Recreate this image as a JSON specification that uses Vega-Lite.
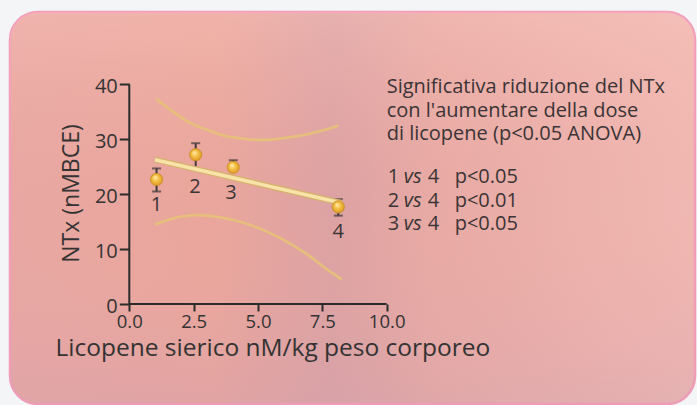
{
  "$schema": "https://vega.github.io/schema/vega-lite/v6.json",
  "width": 685,
  "height": 392,
  "autosize": {"type": "none"},
  "padding": {"left": 10, "top": 12, "right": 2, "bottom": 1},
  "background": "#f3f5f7",
  "config": {"view": {"stroke": null}, "font": "Open Sans", "axis": {"grid": false}},
  "datasets": {
    "points": [
      {"id": "1", "x": 1.06, "y": 22.7, "hi": 24.7, "lo": 20.5, "lx": 1.06, "ly": 18.0},
      {"id": "2", "x": 2.58, "y": 27.2, "hi": 29.3, "lo": 25.0, "lx": 2.55, "ly": 21.4},
      {"id": "3", "x": 4.04, "y": 24.9, "hi": 26.2, "lo": 24.9, "lx": 3.95, "ly": 20.2},
      {"id": "4", "x": 8.12, "y": 17.7, "hi": 19.1, "lo": 16.1, "lx": 8.12, "ly": 13.2}
    ],
    "reg": [{"x": 1.0, "y": 26.3}, {"x": 8.25, "y": 18.4}],
    "upper": [
      {"x": 1.04, "y": 37.4}, {"x": 1.71, "y": 35.0}, {"x": 2.36, "y": 33.0}, {"x": 3.0, "y": 31.8},
      {"x": 3.65, "y": 30.7}, {"x": 4.3, "y": 30.2}, {"x": 5.0, "y": 29.9}, {"x": 5.6, "y": 30.0},
      {"x": 6.24, "y": 30.4}, {"x": 6.89, "y": 30.9}, {"x": 7.5, "y": 31.6}, {"x": 8.12, "y": 32.5}
    ],
    "lower": [
      {"x": 1.0, "y": 14.5}, {"x": 1.5, "y": 15.3}, {"x": 1.97, "y": 15.9}, {"x": 2.75, "y": 16.2},
      {"x": 3.4, "y": 15.9}, {"x": 4.04, "y": 15.3}, {"x": 4.7, "y": 14.4}, {"x": 5.34, "y": 13.2},
      {"x": 6.0, "y": 11.7}, {"x": 6.63, "y": 9.9}, {"x": 7.1, "y": 8.4}, {"x": 7.54, "y": 6.8},
      {"x": 8.25, "y": 4.5}
    ],
    "axlines": [{"x": 0, "x2": 10, "y": 0, "y2": 0}, {"x": 0, "x2": 0, "y": 0, "y2": 40}],
    "head": [
      {"t": "Significativa riduzione del NTx", "y": 38.4},
      {"t": "con l'aumentare della dose", "y": 34.13},
      {"t": "di licopene (p<0.05 ANOVA)", "y": 29.89}
    ],
    "comp": [
      {"n": "1", "v": "vs", "m": "4", "p": "p<0.05", "y": 22.0},
      {"n": "2", "v": "vs", "m": "4", "p": "p<0.01", "y": 17.73},
      {"n": "3", "v": "vs", "m": "4", "p": "p<0.05", "y": 13.49}
    ]
  },
  "layer": [
    {
      "data": {"values": [{}]},
      "mark": {
        "type": "rect", "cornerRadius": 28, "stroke": "#f29cb8", "strokeWidth": 2.5,
        "fill": {"gradient": "linear", "x1": 0, "y1": 0, "x2": 1, "y2": 0,
          "stops": [
            {"offset": 0, "color": "#e8a7a2"},
            {"offset": 0.3, "color": "#eaa69c"},
            {"offset": 0.47, "color": "#dca2a3"},
            {"offset": 0.62, "color": "#e8aaa4"},
            {"offset": 1, "color": "#f0b8b2"}
          ]}
      },
      "encoding": {"x": {"value": 0}, "x2": {"value": "width"}, "y": {"value": 0}, "y2": {"value": "height"}}
    },
    {
      "data": {"values": [{}]},
      "mark": {
        "type": "rect", "cornerRadius": 28,
        "fill": {"gradient": "linear", "x1": 0, "y1": 0, "x2": 0, "y2": 1,
          "stops": [
            {"offset": 0, "color": "rgba(255,210,200,0.3)"},
            {"offset": 0.5, "color": "rgba(240,170,160,0.0)"},
            {"offset": 1, "color": "rgba(205,160,180,0.3)"}
          ]}
      },
      "encoding": {"x": {"value": 0}, "x2": {"value": "width"}, "y": {"value": 0}, "y2": {"value": "height"}}
    },
    {
      "data": {"name": "axlines"},
      "mark": {"type": "rule", "color": "#2b2b2b", "strokeWidth": 2},
      "encoding": {
        "x": {"field": "x", "type": "quantitative", "title": "Licopene sierico nM/kg peso corporeo",
          "scale": {"domain": [-4.635, 21.98], "nice": false, "zero": false},
          "axis": {"values": [0, 2.5, 5, 7.5, 10], "format": ".1f", "domain": false, "grid": false, "offset": -100, "zindex": 1,
            "tickSize": 7, "tickWidth": 2, "tickColor": "#2b2b2b",
            "labelFont": "Open Sans", "labelFontSize": 18.5, "labelColor": "#333333", "labelBaseline": "alphabetic",
            "labelPadding": 16, "labelFlush": false, "labelOverlap": false,
            "titleFont": "Open Sans", "titleFontSize": 24.5, "titleFontWeight": "normal", "titleColor": "#333333",
            "titleX": 45, "titleY": 51, "titleAlign": "left", "titleBaseline": "alphabetic"}},
        "x2": {"field": "x2"},
        "y": {"field": "y", "type": "quantitative", "title": "NTx (nMBCE)",
          "scale": {"domain": [-18.22, 53.21], "nice": false, "zero": false},
          "axis": {"values": [0, 10, 20, 30, 40], "domain": false, "grid": false, "offset": -119.3, "zindex": 1,
            "tickSize": 10, "tickWidth": 2, "tickColor": "#2b2b2b",
            "labelFont": "Open Sans", "labelFontSize": 20, "labelColor": "#333333", "labelPadding": 2,
            "labelBaseline": "middle", "labelOffset": 2, "labelFlush": false, "labelOverlap": false,
            "titleFont": "Open Sans", "titleFontSize": 23, "titleFontWeight": "normal", "titleColor": "#333333",
            "titleX": -58, "titleY": 181, "titleAngle": 270, "titleAlign": "center", "titleBaseline": "middle"}},
        "y2": {"field": "y2"}
      }
    },
    {
      "data": {"name": "upper"},
      "mark": {"type": "line", "color": "#e6c07a", "strokeWidth": 2.6, "interpolate": "monotone"},
      "encoding": {
        "x": {"field": "x", "type": "quantitative", "title": "Licopene sierico nM/kg peso corporeo"},
        "y": {"field": "y", "type": "quantitative", "title": "NTx (nMBCE)"}
      }
    },
    {
      "data": {"name": "lower"},
      "mark": {"type": "line", "color": "#e6c07a", "strokeWidth": 2.6, "interpolate": "monotone"},
      "encoding": {
        "x": {"field": "x", "type": "quantitative", "title": "Licopene sierico nM/kg peso corporeo"},
        "y": {"field": "y", "type": "quantitative", "title": "NTx (nMBCE)"}
      }
    },
    {
      "data": {"name": "points"},
      "mark": {"type": "rule", "color": "#3f3a3c", "strokeWidth": 2},
      "encoding": {
        "x": {"field": "x", "type": "quantitative", "title": "Licopene sierico nM/kg peso corporeo"},
        "y": {"field": "lo", "type": "quantitative", "title": "NTx (nMBCE)"},
        "y2": {"field": "hi"}
      }
    },
    {
      "data": {"name": "points"},
      "mark": {"type": "tick", "orient": "horizontal", "color": "#3f3a3c", "size": 9, "thickness": 2},
      "encoding": {
        "x": {"field": "x", "type": "quantitative", "title": "Licopene sierico nM/kg peso corporeo"},
        "y": {"field": "hi", "type": "quantitative", "title": "NTx (nMBCE)"}
      }
    },
    {
      "data": {"name": "points"},
      "transform": [{"filter": "datum.id == '1' || datum.id == '4'"}],
      "mark": {"type": "tick", "orient": "horizontal", "color": "#3f3a3c", "size": 9, "thickness": 2},
      "encoding": {
        "x": {"field": "x", "type": "quantitative", "title": "Licopene sierico nM/kg peso corporeo"},
        "y": {"field": "lo", "type": "quantitative", "title": "NTx (nMBCE)"}
      }
    },
    {
      "data": {"name": "reg"},
      "mark": {"type": "line", "color": "#d6b26c", "strokeWidth": 6},
      "encoding": {
        "x": {"field": "x", "type": "quantitative", "title": "Licopene sierico nM/kg peso corporeo"},
        "y": {"field": "y", "type": "quantitative", "title": "NTx (nMBCE)"}
      }
    },
    {
      "data": {"name": "reg"},
      "mark": {"type": "line", "color": "#f8e3a8", "strokeWidth": 3.5},
      "encoding": {
        "x": {"field": "x", "type": "quantitative", "title": "Licopene sierico nM/kg peso corporeo"},
        "y": {"field": "y", "type": "quantitative", "title": "NTx (nMBCE)"}
      }
    },
    {
      "data": {"name": "points"},
      "mark": {"type": "point", "filled": true, "size": 150, "opacity": 1, "stroke": "#c98d22", "strokeWidth": 0.8,
        "fill": {"gradient": "radial", "x1": 0.38, "y1": 0.32, "r1": 0, "x2": 0.5, "y2": 0.5, "r2": 0.55,
          "stops": [{"offset": 0, "color": "#fff0b8"}, {"offset": 0.45, "color": "#f6c24a"}, {"offset": 1, "color": "#d9951e"}]}},
      "encoding": {
        "x": {"field": "x", "type": "quantitative", "title": "Licopene sierico nM/kg peso corporeo"},
        "y": {"field": "y", "type": "quantitative", "title": "NTx (nMBCE)"}
      }
    },
    {
      "data": {"name": "points"},
      "mark": {"type": "text", "font": "Open Sans", "fontSize": 20, "color": "#3a3436", "align": "center", "baseline": "middle"},
      "encoding": {
        "x": {"field": "lx", "type": "quantitative", "title": "Licopene sierico nM/kg peso corporeo"},
        "y": {"field": "ly", "type": "quantitative", "title": "NTx (nMBCE)"},
        "text": {"field": "id"}
      }
    },
    {
      "data": {"name": "head"},
      "mark": {"type": "text", "font": "Open Sans", "fontSize": 20, "color": "#3a3436", "align": "left", "baseline": "alphabetic"},
      "encoding": {
        "x": {"datum": 10, "type": "quantitative", "title": "Licopene sierico nM/kg peso corporeo"},
        "y": {"field": "y", "type": "quantitative", "title": "NTx (nMBCE)"},
        "text": {"field": "t"}
      }
    },
    {
      "data": {"name": "comp"},
      "mark": {"type": "text", "font": "Open Sans", "fontSize": 20, "color": "#3a3436", "align": "left", "baseline": "alphabetic", "dx": 1},
      "encoding": {
        "x": {"datum": 10, "type": "quantitative", "title": "Licopene sierico nM/kg peso corporeo"},
        "y": {"field": "y", "type": "quantitative", "title": "NTx (nMBCE)"},
        "text": {"field": "n"}
      }
    },
    {
      "data": {"name": "comp"},
      "mark": {"type": "text", "font": "Open Sans", "fontSize": 20, "fontStyle": "italic", "color": "#3a3436", "align": "left", "baseline": "alphabetic", "dx": 17},
      "encoding": {
        "x": {"datum": 10, "type": "quantitative", "title": "Licopene sierico nM/kg peso corporeo"},
        "y": {"field": "y", "type": "quantitative", "title": "NTx (nMBCE)"},
        "text": {"field": "v"}
      }
    },
    {
      "data": {"name": "comp"},
      "mark": {"type": "text", "font": "Open Sans", "fontSize": 20, "color": "#3a3436", "align": "left", "baseline": "alphabetic", "dx": 41},
      "encoding": {
        "x": {"datum": 10, "type": "quantitative", "title": "Licopene sierico nM/kg peso corporeo"},
        "y": {"field": "y", "type": "quantitative", "title": "NTx (nMBCE)"},
        "text": {"field": "m"}
      }
    },
    {
      "data": {"name": "comp"},
      "mark": {"type": "text", "font": "Open Sans", "fontSize": 20, "color": "#3a3436", "align": "left", "baseline": "alphabetic", "dx": 68},
      "encoding": {
        "x": {"datum": 10, "type": "quantitative", "title": "Licopene sierico nM/kg peso corporeo"},
        "y": {"field": "y", "type": "quantitative", "title": "NTx (nMBCE)"},
        "text": {"field": "p"}
      }
    }
  ]
}
